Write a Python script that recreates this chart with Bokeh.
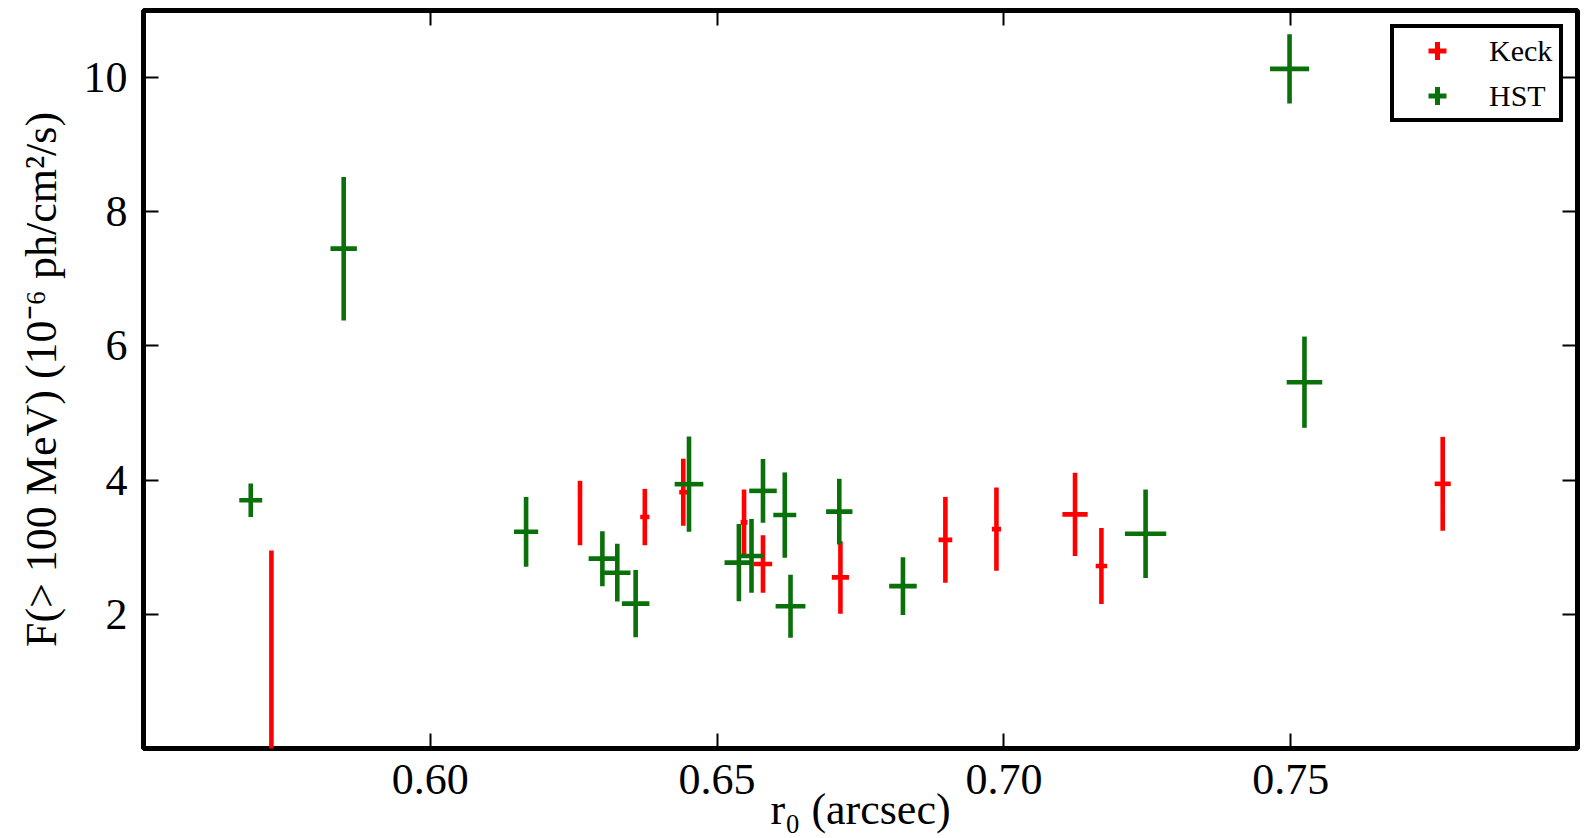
from bokeh.plotting import figure
from bokeh.models import (ColumnDataSource, Range1d, FixedTicker, LinearAxis,
                          Legend, LegendItem, CustomJSTickFormatter)
from bokeh.embed import file_html
from bokeh.resources import INLINE

# ---------------- data ----------------
keck_r0 = [0.5723, 0.6261, 0.6374, 0.6441, 0.6547, 0.6580,
           0.6715, 0.6898, 0.6987, 0.7124, 0.7170, 0.7765]
keck_flux = [1.23, 3.51, 3.45, 3.82, 3.37, 2.75,
             2.55, 3.11, 3.27, 3.49, 2.72, 3.945]
keck_r0_err = [0.0002, 0.0, 0.0008, 0.0007, 0.0006, 0.0016,
               0.0015, 0.0012, 0.0008, 0.0022, 0.0010, 0.0014]
keck_flux_err = [1.72, 0.48, 0.42, 0.50, 0.49, 0.43,
                 0.54, 0.64, 0.62, 0.62, 0.565, 0.70]

hst_r0 = [0.5687, 0.5849, 0.6167, 0.6300, 0.6326, 0.6358, 0.6451, 0.6538,
          0.6560, 0.6580, 0.6618, 0.6628, 0.6713, 0.6824, 0.7247, 0.7498, 0.7524]
hst_flux = [3.70, 7.45, 3.23, 2.83, 2.62, 2.16, 3.94, 2.77,
            2.87, 3.84, 3.48, 2.12, 3.53, 2.42, 3.20, 10.13, 5.46]
hst_r0_err = [0.0020, 0.0023, 0.0021, 0.0024, 0.0023, 0.0024, 0.0025, 0.0025,
              0.0021, 0.0024, 0.0020, 0.0026, 0.0023, 0.0024, 0.0036, 0.0034, 0.0031]
hst_flux_err = [0.25, 1.07, 0.52, 0.41, 0.43, 0.50, 0.71, 0.575,
                0.55, 0.475, 0.635, 0.47, 0.49, 0.43, 0.66, 0.515, 0.68]

x_ticks = [0.60, 0.65, 0.70, 0.75]
x_tick_labels = ["0.60", "0.65", "0.70", "0.75"]
y_ticks = [2, 4, 6, 8, 10]
y_tick_labels = ["2", "4", "6", "8", "10"]

series_names = ["Keck", "HST"]
x_label = "r\u2080 (arcsec)"
y_label = "F(> 100 MeV) (10\u207b\u2076 ph/cm\u00b2/s)"

# ---------------- styles ----------------
RED = "#ff0000"
GREEN = "#0a700a"
FONT = "Liberation Serif"
LW = 4.6


def err_source(x, y, xe, ye):
    return ColumnDataSource(dict(
        x=x, y=y,
        xl=[a - e for a, e in zip(x, xe)], xr=[a + e for a, e in zip(x, xe)],
        yl=[b - e for b, e in zip(y, ye)], yh=[b + e for b, e in zip(y, ye)],
    ))


p = figure(width=1596, height=838, output_backend="svg", toolbar_location=None,
           x_range=Range1d(0.55, 0.80), y_range=Range1d(0, 11),
           min_border_left=143, min_border_right=19, min_border_top=10,
           min_border_bottom=90)

p.background_fill_color = "white"
p.border_fill_color = "white"
p.outline_line_color = "black"
p.outline_line_width = 5
p.outline_line_alpha = 1.0
p.xgrid.visible = False
p.ygrid.visible = False

# axes
for ax in (p.xaxis[0], p.yaxis[0]):
    ax.axis_line_color = None
    ax.major_tick_in = 15
    ax.major_tick_out = 0
    ax.major_tick_line_width = 2
    ax.minor_tick_line_color = None
    ax.major_label_text_font = FONT
    ax.major_label_text_font_size = "44px"
    ax.major_label_text_color = "black"
    ax.axis_label_text_font = FONT
    ax.axis_label_text_font_size = "44px"
    ax.axis_label_text_font_style = "normal"
    ax.axis_label_text_color = "black"

p.xaxis.ticker = FixedTicker(ticks=x_ticks)
p.xaxis.major_label_overrides = dict(zip(x_ticks, x_tick_labels))
p.xaxis.major_label_standoff = 16
p.xaxis.axis_label = x_label
p.xaxis.axis_label_standoff = -12

p.yaxis.ticker = FixedTicker(ticks=y_ticks)
p.yaxis.major_label_overrides = dict(zip(y_ticks, y_tick_labels))
p.yaxis.major_label_standoff = 16
p.yaxis.axis_label = y_label
p.yaxis.axis_label_standoff = 15

blank = CustomJSTickFormatter(code="return ''")
top_ax = LinearAxis(ticker=FixedTicker(ticks=x_ticks), formatter=blank,
                    axis_line_color=None, major_tick_in=15, major_tick_out=0,
                    major_tick_line_width=2, minor_tick_line_color=None,
                    major_label_text_font_size="0px", major_label_standoff=0)
right_ax = LinearAxis(ticker=FixedTicker(ticks=y_ticks), formatter=blank,
                      axis_line_color=None, major_tick_in=15, major_tick_out=0,
                      major_tick_line_width=2, minor_tick_line_color=None,
                      major_label_text_font_size="0px", major_label_standoff=0)
p.add_layout(top_ax, "above")
p.add_layout(right_ax, "right")

# error-bar crosses
items = []
for name, color, x, y, xe, ye in (
        (series_names[0], RED, keck_r0, keck_flux, keck_r0_err, keck_flux_err),
        (series_names[1], GREEN, hst_r0, hst_flux, hst_r0_err, hst_flux_err)):
    src = err_source(x, y, xe, ye)
    p.segment(x0="x", y0="yl", x1="x", y1="yh", source=src,
              line_color=color, line_width=LW, line_cap="butt")
    p.segment(x0="xl", y0="y", x1="xr", y1="y", source=src,
              line_color=color, line_width=LW, line_cap="butt")
    # zero-size marker used only for the legend symbol
    leg = p.scatter(x=x[:1], y=y[:1], size=0, marker="cross",
                    line_color=color, line_width=5)
    items.append(LegendItem(label=name, renderers=[leg]))

legend = Legend(items=items, location="top_right", margin=14, padding=0,
                glyph_width=86, glyph_height=45, spacing=0,
                label_standoff=9, label_width=70,
                label_text_font=FONT, label_text_font_size="30px",
                label_text_color="black",
                border_line_color="black", border_line_width=4,
                border_line_alpha=1.0,
                background_fill_color="white", background_fill_alpha=1.0)
p.add_layout(legend)

open("out.html", "w").write(file_html(p, INLINE))
